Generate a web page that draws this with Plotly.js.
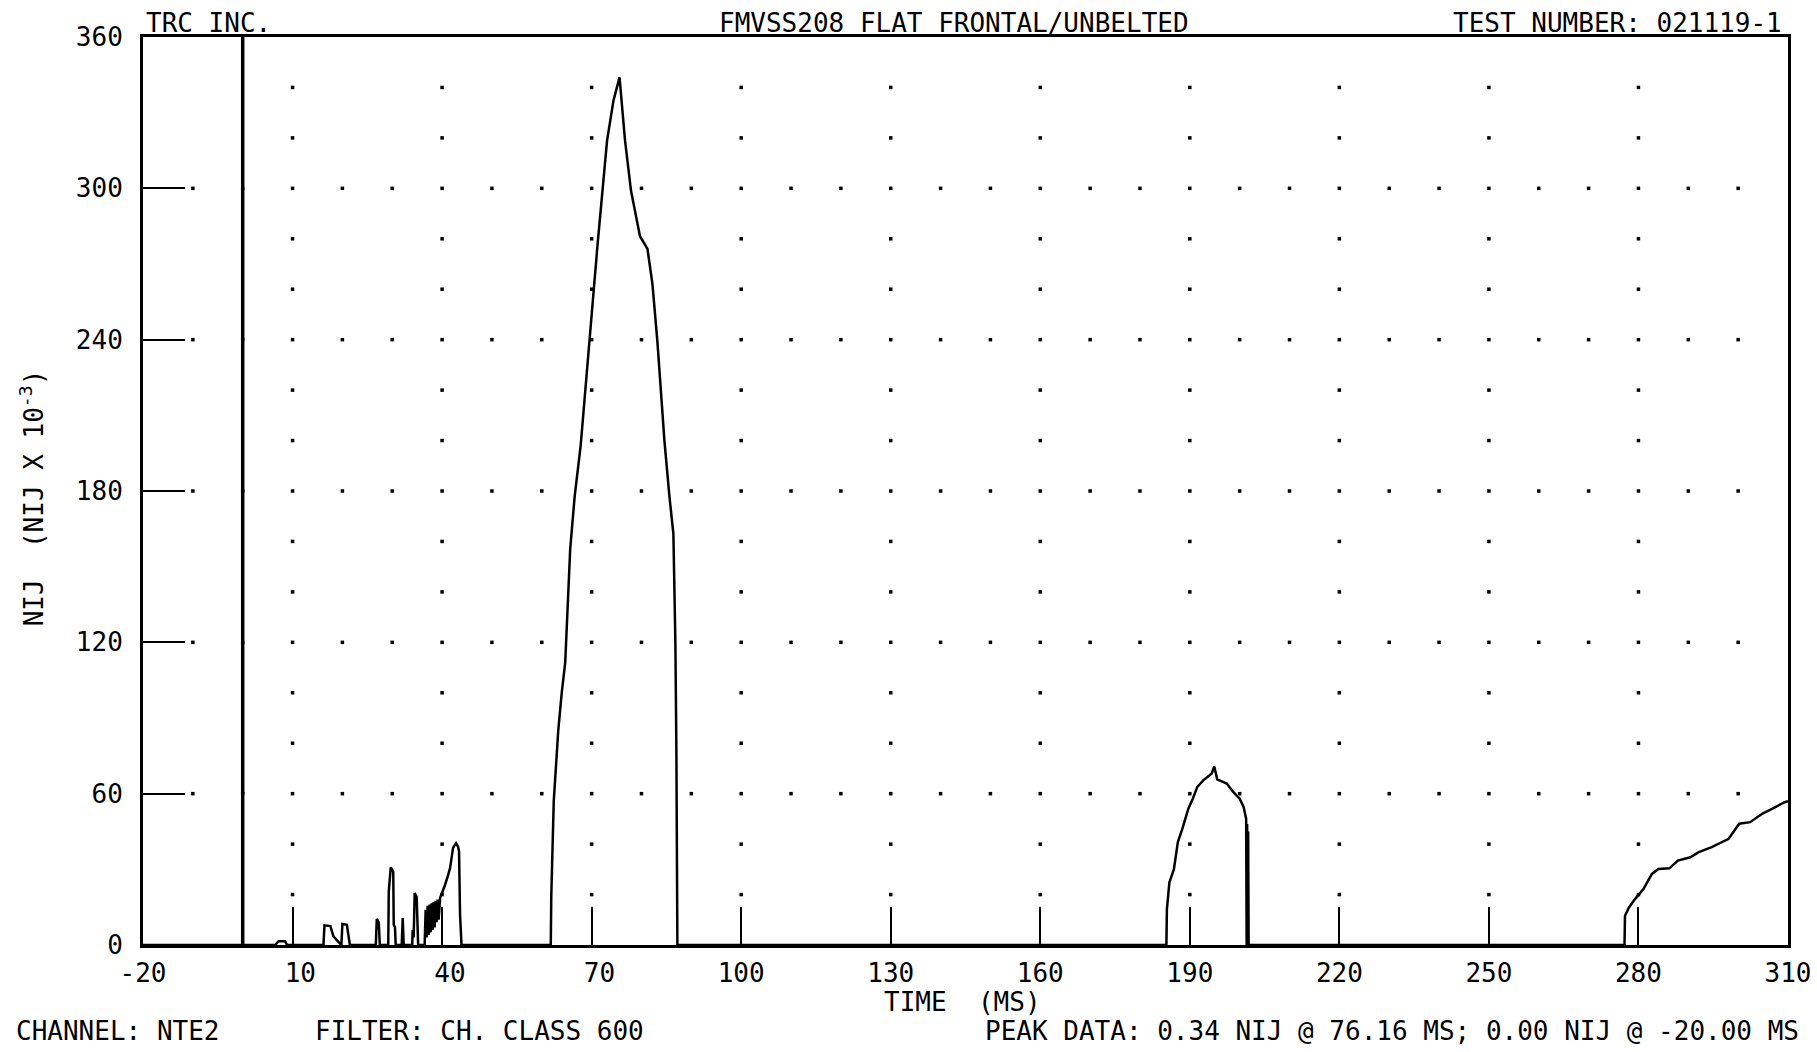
<!DOCTYPE html>
<html>
<head>
<meta charset="utf-8">
<script src="https://cdn.plot.ly/plotly-3.0.1.min.js"></script>
<style>
  html, body { margin: 0; padding: 0; background: #ffffff; }
  #chart { width: 1817px; height: 1052px; }
</style>
</head>
<body>
<div id="chart"></div>
<script>
// ---- Data (time in ms, NIJ x 10^-3) ----
const time = [
  -20, 6.5, 7.2, 8.5, 8.9,
  16.2, 16.4, 17.6, 18.2, 19.2, 19.8, 20.0, 20.9, 21.5,
  26.7, 26.9, 27.3, 27.5,
  29.2, 29.3, 29.7, 30.2, 30.3, 30.55, 30.7,
  31.9, 32.1, 32.3,
  34.0, 34.1, 34.3, 34.5, 34.9, 35.2,
  36.5, 36.7, 36.9, 37.1, 37.3, 37.5, 37.7, 37.9, 38.1, 38.3, 38.5, 38.7, 38.9, 39.1, 39.3, 39.6,
  40.1, 40.6, 41.1, 41.6, 42.2, 42.8, 43.2, 43.4, 43.6, 43.9,
  61.8, 61.9, 62.4, 63.3, 64.0, 64.7, 65.7, 66.6, 67.8, 69.5, 71.2, 73.1, 74.4, 75.6,
  76.7, 77.9, 79.7, 81.2, 82.2, 83.2, 84.6, 85.6, 86.4, 86.8, 87.0, 87.2,
  185.3, 185.4, 185.9, 186.8, 187.6, 188.5, 189.7, 190.6, 191.5, 192.7, 194.4, 194.9,
  195.5, 197.4, 198.7, 200.0, 200.8, 201.3, 201.4, 201.5, 201.6, 201.7, 201.8,
  277.2, 277.3, 278.1, 279.3, 281.0, 282.7, 284.0, 286.2, 287.9, 290.4, 292.1, 294.7,
  298.1, 300.2, 302.4, 304.9, 307.1, 309.2, 310
];
const nij = [
  0, 0, 1.5, 1.5, 0,
  0, 7.8, 7.5, 3.4, 1.5, 0, 8.3, 8.0, 0,
  0, 10.3, 9.0, 0,
  0, 21, 30.8, 29, 8, 7, 0,
  0, 10.7, 0,
  0, 6, 3, 20.6, 19, 0,
  0, 14, 3, 15.5, 4, 16, 5, 16.5, 6, 17, 7, 17.5, 9, 18, 10, 18.6,
  21, 23.9, 27, 30.5, 38.5, 40.4, 39, 37.2, 12, 0,
  0, 19, 57, 85, 100, 112, 157, 178, 198, 239, 278, 319, 335, 344,
  319, 299, 281, 276, 262, 239, 200, 178, 163, 120, 77, 0,
  0, 14, 24.8, 30, 40.8, 46, 54, 58, 62.7, 65.3, 68, 70.8,
  65.7, 64, 60.7, 58, 54.7, 50, 0, 48, 0, 45, 0,
  0, 11.6, 14.9, 18.2, 22.2, 28.2, 30.1, 30.4, 33.5, 34.8, 36.8, 38.8,
  42.1, 48.1, 48.7, 52.1, 54.3, 56.5, 57
];
// time-zero marker line
const markerTimes = [0];

// ---- Axis ticks ----
const xTickVals = [-20, 10, 40, 70, 100, 130, 160, 190, 220, 250, 280, 310];
const xTickText = ['-20', '\u00A010', '\u00A040', '\u00A070', '100', '130', '160', '190', '220', '250', '280', '310'];
const yTickVals = [0, 60, 120, 180, 240, 300, 360];
const yTickText = ['0', '60', '120', '180', '240', '300', '360'];
const xMinorStep = 10;
const yMinorStep = 20;

// ---- Texts ----
const headerLeft = 'TRC INC.';
const headerCenter = 'FMVSS208 FLAT FRONTAL/UNBELTED';
const headerRight = 'TEST NUMBER: 021119-1';
const xTitle = 'TIME  (MS)';
const yTitle = 'NIJ  (NIJ X 10<sup>-3</sup>)';
const footChannel = 'CHANNEL: NTE2';
const footFilter = 'FILTER: CH. CLASS 600';
const footPeak = 'PEAK DATA: 0.34 NIJ @ 76.16 MS; 0.00 NIJ @ -20.00 MS';

// ---- Dotted plotter grid built from the tick arrays ----
const xMin = xTickVals[0], xMax = xTickVals[xTickVals.length - 1];
const yMin = yTickVals[0], yMax = yTickVals[yTickVals.length - 1];
const innerMajorX = xTickVals.slice(1, -1);
const innerMajorY = yTickVals.slice(1, -1);
const gx = [], gy = [];
for (const x of innerMajorX) {
  for (let y = yMin + yMinorStep; y < yMax; y += yMinorStep) {
    if (innerMajorY.indexOf(y) === -1) { gx.push(x); gy.push(y); }
  }
}
for (const y of innerMajorY) {
  for (let x = xMin + xMinorStep; x < xMax; x += xMinorStep) { gx.push(x); gy.push(y); }
}

const FONT = 'DejaVu Sans Mono, Liberation Mono, monospace';
const FS = 26;

const traces = [
  {
    x: gx, y: gy, type: 'scatter', mode: 'markers',
    marker: { symbol: 'square', size: 3.5, color: '#000000' },
    hoverinfo: 'skip', showlegend: false
  },
  {
    x: time, y: nij, type: 'scatter', mode: 'lines',
    line: { color: '#000000', width: 2.5 },
    showlegend: false
  }
];

const ann = (text, x, y, xanchor, extra) => Object.assign({
  text: text, x: x, y: y, xref: 'paper', yref: 'paper',
  xanchor: xanchor, yanchor: 'middle', showarrow: false,
  font: { family: FONT, size: FS, color: '#000000' }
}, extra || {});

const layout = {
  width: 1817, height: 1052,
  paper_bgcolor: '#ffffff', plot_bgcolor: '#ffffff',
  margin: { l: 143, r: 29, t: 37, b: 107 },
  showlegend: false,
  font: { family: FONT, size: FS, color: '#000000' },
  xaxis: {
    range: [xMin, xMax], tickmode: 'array', tickvals: xTickVals, ticktext: xTickText,
    ticks: 'inside', ticklen: 38, tickwidth: 2, tickcolor: '#000000',
    showline: true, linewidth: 3, linecolor: '#000000', mirror: true,
    showgrid: false, zeroline: false,
    tickfont: { family: FONT, size: FS, color: '#000000' },
    ticklabelstandoff: 3
  },
  yaxis: {
    range: [yMin, yMax], tickmode: 'array', tickvals: yTickVals, ticktext: yTickText,
    ticks: 'inside', ticklen: 42, tickwidth: 2, tickcolor: '#000000',
    showline: true, linewidth: 3, linecolor: '#000000', mirror: true,
    showgrid: false, zeroline: false,
    tickfont: { family: FONT, size: FS, color: '#000000' },
    ticklabelstandoff: 12
  },
  shapes: markerTimes.map(t => ({
    type: 'line', xref: 'x', yref: 'y', x0: t, x1: t, y0: yMin, y1: yMax,
    line: { color: '#000000', width: 3.5 }
  })),
  annotations: [
    ann(headerLeft, 0.0006, 1.0155, 'left'),
    ann(headerCenter, 0.493, 1.0155, 'center'),
    ann(headerRight, 0.9975, 1.0155, 'right'),
    ann(xTitle, 0.498, -0.0625, 'center'),
    ann(yTitle, -0.0675, 0.493, 'center', { textangle: -90 }),
    ann(footChannel, -0.0784, -0.0947, 'left'),
    ann(footFilter, 0.1033, -0.0947, 'left'),
    ann(footPeak, 0.5106, -0.0947, 'left')
  ]
};

Plotly.newPlot('chart', traces, layout, { displayModeBar: false, staticPlot: true });
</script>
</body>
</html>
